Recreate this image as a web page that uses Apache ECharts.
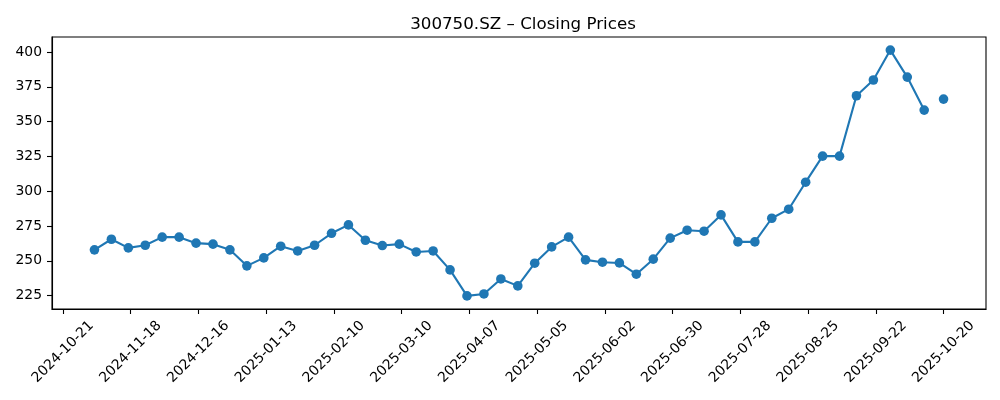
<!DOCTYPE html>
<html>
<head>
<meta charset="utf-8">
<script src="https://cdn.jsdelivr.net/npm/echarts@6/dist/echarts.min.js"></script>
<style>
  html, body { margin: 0; padding: 0; background: #fff; }
  #chart { width: 1000px; height: 400px; }
</style>
</head>
<body>
<div id="chart"></div>
<script>
// weekly closes (10-19 is a gap in the series)
var dates = [
  '2024-11-03', '2024-11-10', '2024-11-17', '2024-11-24', '2024-12-01', '2024-12-08',
  '2024-12-15', '2024-12-22', '2024-12-29', '2025-01-05', '2025-01-12', '2025-01-19',
  '2025-01-26', '2025-02-02', '2025-02-09', '2025-02-16', '2025-02-23', '2025-03-02',
  '2025-03-09', '2025-03-16', '2025-03-23', '2025-03-30', '2025-04-06', '2025-04-13',
  '2025-04-20', '2025-04-27', '2025-05-04', '2025-05-11', '2025-05-18', '2025-05-25',
  '2025-06-01', '2025-06-08', '2025-06-15', '2025-06-22', '2025-06-29', '2025-07-06',
  '2025-07-13', '2025-07-20', '2025-07-27', '2025-08-03', '2025-08-10', '2025-08-17',
  '2025-08-24', '2025-08-31', '2025-09-07', '2025-09-14', '2025-09-21', '2025-09-28',
  '2025-10-05', '2025-10-12', '2025-10-19', '2025-10-20'
];
var closes = [
  257.9, 265.5, 259.3, 261.2, 267.0, 267.0,
  262.7, 262.0, 257.9, 246.4, 252.1, 260.5,
  257.1, 261.2, 269.8, 275.8, 264.8, 261.0,
  262.0, 256.4, 257.1, 243.5, 224.8, 226.2,
  237.0, 232.0, 248.3, 260.0, 267.0, 250.7,
  249.0, 248.5, 240.4, 251.2, 266.3, 272.0,
  271.3, 283.0, 263.6, 263.6, 280.6, 287.1,
  306.5, 325.2, 325.2, 368.6, 379.9, 401.4,
  382.0, 358.3, null, 366.2
];
var xTicks = [
  '2024-10-21', '2024-11-18', '2024-12-16', '2025-01-13', '2025-02-10', '2025-03-10',
  '2025-04-07', '2025-05-05', '2025-06-02', '2025-06-30', '2025-07-28', '2025-08-25',
  '2025-09-22', '2025-10-20'
];
var yTicks = [225, 250, 275, 300, 325, 350, 375, 400];

function ts(s) { return +new Date(s + 'T00:00:00'); }

var points = dates.map(function (d, i) {
  return [ts(d), closes[i] == null ? '-' : closes[i]];
});

// matplotlib style 5% margins
var x0 = ts(dates[0]), x1 = ts(dates[dates.length - 1]);
var xPad = (x1 - x0) * 0.05;

var font = 'DejaVu Sans';
var chart = echarts.init(document.getElementById('chart'));

chart.setOption({
  animation: false,
  backgroundColor: '#ffffff',
  title: {
    text: '300750.SZ \u2013 Closing Prices',
    left: 518, textAlign: 'center', top: 11,
    textStyle: { fontFamily: font, fontSize: 16.7, fontWeight: 'normal', color: '#000' }
  },
  grid: {
    left: 52, right: 14, top: 37, bottom: 91,
    show: true, borderColor: '#000', borderWidth: 1.1, backgroundColor: 'transparent'
  },
  xAxis: {
    type: 'value',
    min: x0 - xPad,
    max: x1 + xPad,
    splitLine: { show: false },
    axisLine: { lineStyle: { color: '#000', width: 1.1 } },
    axisTick: { show: true, length: 5, lineStyle: { color: '#000', width: 1.1 },
      customValues: xTicks.map(ts) },
    axisLabel: {
      customValues: xTicks.map(ts),
      rotate: 45, align: 'center', verticalAlign: 'middle', margin: 43,
      fontFamily: font, fontSize: 13.9, color: '#000',
      formatter: function (v) { return echarts.time.format(v, '{yyyy}-{MM}-{dd}', false); }
    }
  },
  yAxis: {
    type: 'value',
    min: 215.4,
    max: 410.8,
    splitLine: { show: false },
    axisLine: { show: true, lineStyle: { color: '#000', width: 1.1 } },
    axisTick: { show: true, length: 5, lineStyle: { color: '#000', width: 1.1 },
      customValues: yTicks },
    axisLabel: {
      customValues: yTicks, margin: 10,
      fontFamily: font, fontSize: 13.9, color: '#000'
    }
  },
  series: [{
    type: 'line',
    data: points,
    connectNulls: false,
    showSymbol: true,
    showAllSymbol: true,
    symbol: 'circle',
    symbolSize: 9.6,
    itemStyle: { color: '#1f77b4' },
    lineStyle: { color: '#1f77b4', width: 2.1 }
  }]
});
</script>
</body>
</html>
